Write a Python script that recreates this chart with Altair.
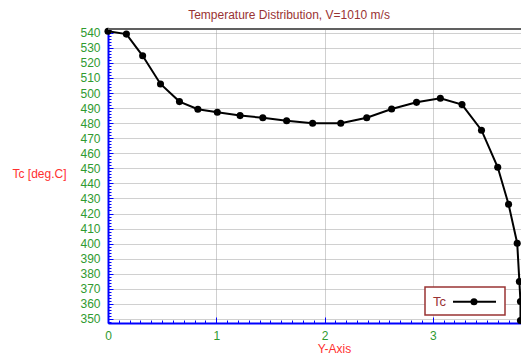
import altair as alt
import pandas as pd

# Data
y_pos = [0, 0.17, 0.32, 0.485, 0.66, 0.83, 1.01, 1.22, 1.43, 1.65, 1.89, 2.15,
         2.39, 2.62, 2.85, 3.07, 3.27, 3.45, 3.60, 3.70, 3.78, 3.80, 3.81, 3.81]
tc = [541, 539.1, 524.7, 506, 494.3, 489.2, 487.2, 485.0, 483.6, 481.6, 479.9, 479.9,
      483.6, 489.4, 493.8, 496.5, 492.3, 475.3, 450.7, 426.2, 400.3, 374.9, 361.6, 349]

x_major = [0, 1, 2, 3]
x_minor = [round(i * 0.1, 1) for i in range(0, 39)]
y_major = list(range(350, 541, 10))
y_minor = list(range(348, 543, 2))
series_name = ["Tc"]
title_text = ["Temperature Distribution, V=1010 m/s"]

W, H = 413, 294
FONT = "Liberation Sans"
GREEN = "#2f9a2f"
DARKRED = "#993333"
RED = "#ff3030"
BLUE = "#0000ff"

df = pd.DataFrame({"x": y_pos, "y": tc, "i": range(len(y_pos))})
leg = pd.DataFrame({"label": series_name})
ttl = pd.DataFrame({"t": title_text})

xs = alt.Scale(domain=[0, 3.815], nice=False, zero=False)
ys = alt.Scale(domain=[347.3, 542.5], nice=False, zero=False)

main = alt.Chart(df).mark_line(
    color="black", strokeWidth=2,
    point=alt.OverlayMarkDef(filled=True, color="black", size=50, opacity=1),
).encode(
    x=alt.X("x:Q", scale=xs, axis=alt.Axis(
        values=x_major, format="d", orient="bottom",
        title="Y-Axis", titleColor=RED, titleFont=FONT, titleFontSize=12, titleFontWeight="normal",
        titleX=226, titleY=29, titleBaseline="alphabetic", titleAlign="center",
        labelColor=GREEN, labelFont=FONT, labelFontSize=12, labelPadding=7, labelFlush=False,
        ticks=False, tickSize=0,
        domainColor=BLUE, domainWidth=2,
        grid=True, gridColor="#a0a0a0", gridDash=[1, 1], gridWidth=1,
    )),
    y=alt.Y("y:Q", scale=ys, axis=alt.Axis(
        values=y_major, format="d", orient="left",
        title="Tc [deg.C]", titleColor=RED, titleFont=FONT, titleFontSize=12, titleFontWeight="normal",
        titleAngle=0, titleX=-96, titleY=144, titleAlign="left", titleBaseline="middle",
        labelColor=GREEN, labelFont=FONT, labelFontSize=12, labelPadding=8, labelOverlap=False,
        ticks=False, tickSize=0,
        domainColor=BLUE, domainWidth=2,
        grid=True, gridColor="#a0a0a0", gridDash=[1, 1], gridWidth=1,
    )),
    order="i:Q",
)

minor = alt.Chart(df).mark_point(opacity=0).encode(
    x=alt.X("x:Q", scale=xs, axis=alt.Axis(
        orient="top", offset=-H, values=x_minor, tickSize=3, tickColor=BLUE, tickWidth=1,
        labels=False, domain=False, grid=False, title=None)),
    y=alt.Y("y:Q", scale=ys, axis=alt.Axis(
        orient="right", offset=-W, values=y_minor, tickSize=3, tickColor=BLUE, tickWidth=1,
        labels=False, domain=False, grid=False, title=None)),
)

major = alt.Chart(df).mark_point(opacity=0).encode(
    x=alt.X("x:Q", scale=xs, axis=alt.Axis(
        orient="top", offset=-H, values=x_major, tickSize=6, tickColor=BLUE, tickWidth=1,
        labels=False, domain=False, grid=False, title=None)),
    y=alt.Y("y:Q", scale=ys, axis=alt.Axis(
        orient="right", offset=-W, values=y_major, tickSize=5, tickColor=BLUE, tickWidth=1,
        labels=False, domain=False, grid=False, title=None)),
)

top_border = alt.Chart(leg).mark_rule(color="#606060", strokeWidth=2).encode(
    x=alt.value(0), x2=alt.value(W), y=alt.value(0))

title_mark = alt.Chart(ttl).mark_text(
    color=DARKRED, font=FONT, fontSize=12, align="center", baseline="middle").encode(
    x=alt.value(181), y=alt.value(-14), text="t:N")

leg_box = alt.Chart(leg).mark_rect(fill="white", stroke=DARKRED, strokeWidth=1.5).encode(
    x=alt.value(317), x2=alt.value(397), y=alt.value(258), y2=alt.value(286))
leg_text = alt.Chart(leg).mark_text(
    color=DARKRED, font=FONT, fontSize=13, align="left", baseline="middle").encode(
    x=alt.value(325), y=alt.value(272.5), text="label:N")
leg_line = alt.Chart(leg).mark_rule(color="black", strokeWidth=2).encode(
    x=alt.value(345), x2=alt.value(388), y=alt.value(272.7))
leg_pt = alt.Chart(leg).mark_point(filled=True, color="black", size=50, opacity=1).encode(
    x=alt.value(366), y=alt.value(272.7))

chart = alt.layer(
    main, minor, major, top_border, title_mark, leg_box, leg_line, leg_pt, leg_text
).resolve_axis(x="independent", y="independent").properties(
    width=W, height=H,
    autosize=alt.AutoSizeParams(type="none"),
    padding={"left": 100, "top": 21, "right": 0, "bottom": 33},
).configure_view(stroke=None).configure(background="white")

chart.save("out.html", embed_options={"renderer": "svg", "actions": False})
